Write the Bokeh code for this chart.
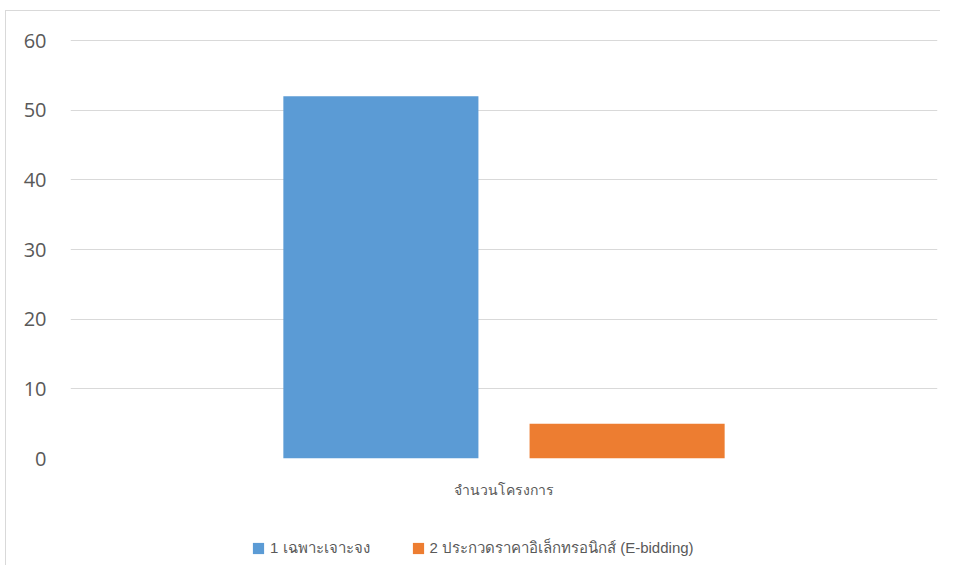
from bokeh.plotting import figure
from bokeh.layouts import column
from bokeh.models import FactorRange, Range1d, ColumnDataSource, Legend, LegendItem, FixedTicker
from bokeh.transform import dodge
from bokeh.embed import file_html
from bokeh.resources import INLINE

categories = ["จำนวนโครงการ"]
series = ["1 เฉพาะเจาะจง", "2 ประกวดราคาอิเล็กทรอนิกส์ (E-bidding)"]
values_s1 = [52]
values_s2 = [5]
colors = ["#5B9BD5", "#ED7D31"]
y_ticks = [0, 10, 20, 30, 40, 50, 60]

p = figure(width=934, height=489, output_backend="svg", toolbar_location=None,
           x_range=FactorRange(factors=categories), y_range=Range1d(0, 60.15),
           min_border_left=64, min_border_right=3, min_border_top=28, min_border_bottom=41)

src1 = ColumnDataSource(dict(x=categories, top=values_s1))
src2 = ColumnDataSource(dict(x=categories, top=values_s2))
r1 = p.vbar(x=dodge("x", -0.142, range=p.x_range), top="top", width=0.225, source=src1,
            fill_color=colors[0], line_color=None)
r2 = p.vbar(x=dodge("x", 0.142, range=p.x_range), top="top", width=0.225, source=src2,
            fill_color=colors[1], line_color=None)

p.outline_line_color = None
p.xgrid.grid_line_color = None
p.ygrid.grid_line_color = "#d9d9d9"
p.ygrid.grid_line_width = 1
p.yaxis.ticker = FixedTicker(ticks=y_ticks)
p.yaxis.axis_line_color = None
p.yaxis.major_tick_line_color = None
p.yaxis.minor_tick_line_color = None
p.yaxis.major_label_text_color = "#595959"
p.yaxis.major_label_text_font_size = "20px"
p.yaxis.major_label_text_font = "Open Sans"
p.yaxis.major_label_standoff = 18

p.xaxis.axis_line_color = None
p.xaxis.major_tick_line_color = None
p.xaxis.major_label_text_color = "#595959"
p.xaxis.major_label_text_font_size = "14px"
p.xaxis.major_label_standoff = 17

# legend panel below the chart (same series, bars fall outside its view range)
p2 = figure(width=934, height=65, output_backend="svg", toolbar_location=None,
            x_range=FactorRange(factors=categories), y_range=Range1d(1000, 1001),
            x_axis_location=None, y_axis_location=None, min_border=0)
p2.outline_line_color = None
p2.grid.grid_line_color = None
d1 = p2.vbar(x="x", top="top", width=0.225, source=src1, fill_color=colors[0], line_color=None)
d2 = p2.vbar(x="x", top="top", width=0.225, source=src2, fill_color=colors[1], line_color=None)
legend = Legend(items=[LegendItem(label=series[0], renderers=[d1]),
                       LegendItem(label=series[1], renderers=[d2])],
                orientation="horizontal", location=(181, 5),
                label_text_font_size="15px", label_text_color="#595959",
                glyph_width=14, glyph_height=14, spacing=41, border_line_color=None,
                background_fill_alpha=0, margin=0, padding=0, label_standoff=5)
p2.add_layout(legend)

layout = column(p, p2, spacing=0, margin=(10, 0, 0, 5),
                styles={"border-left": "1px solid #d9d9d9", "border-top": "1px solid #d9d9d9"})
open("out.html", "w").write(file_html(layout, INLINE))
